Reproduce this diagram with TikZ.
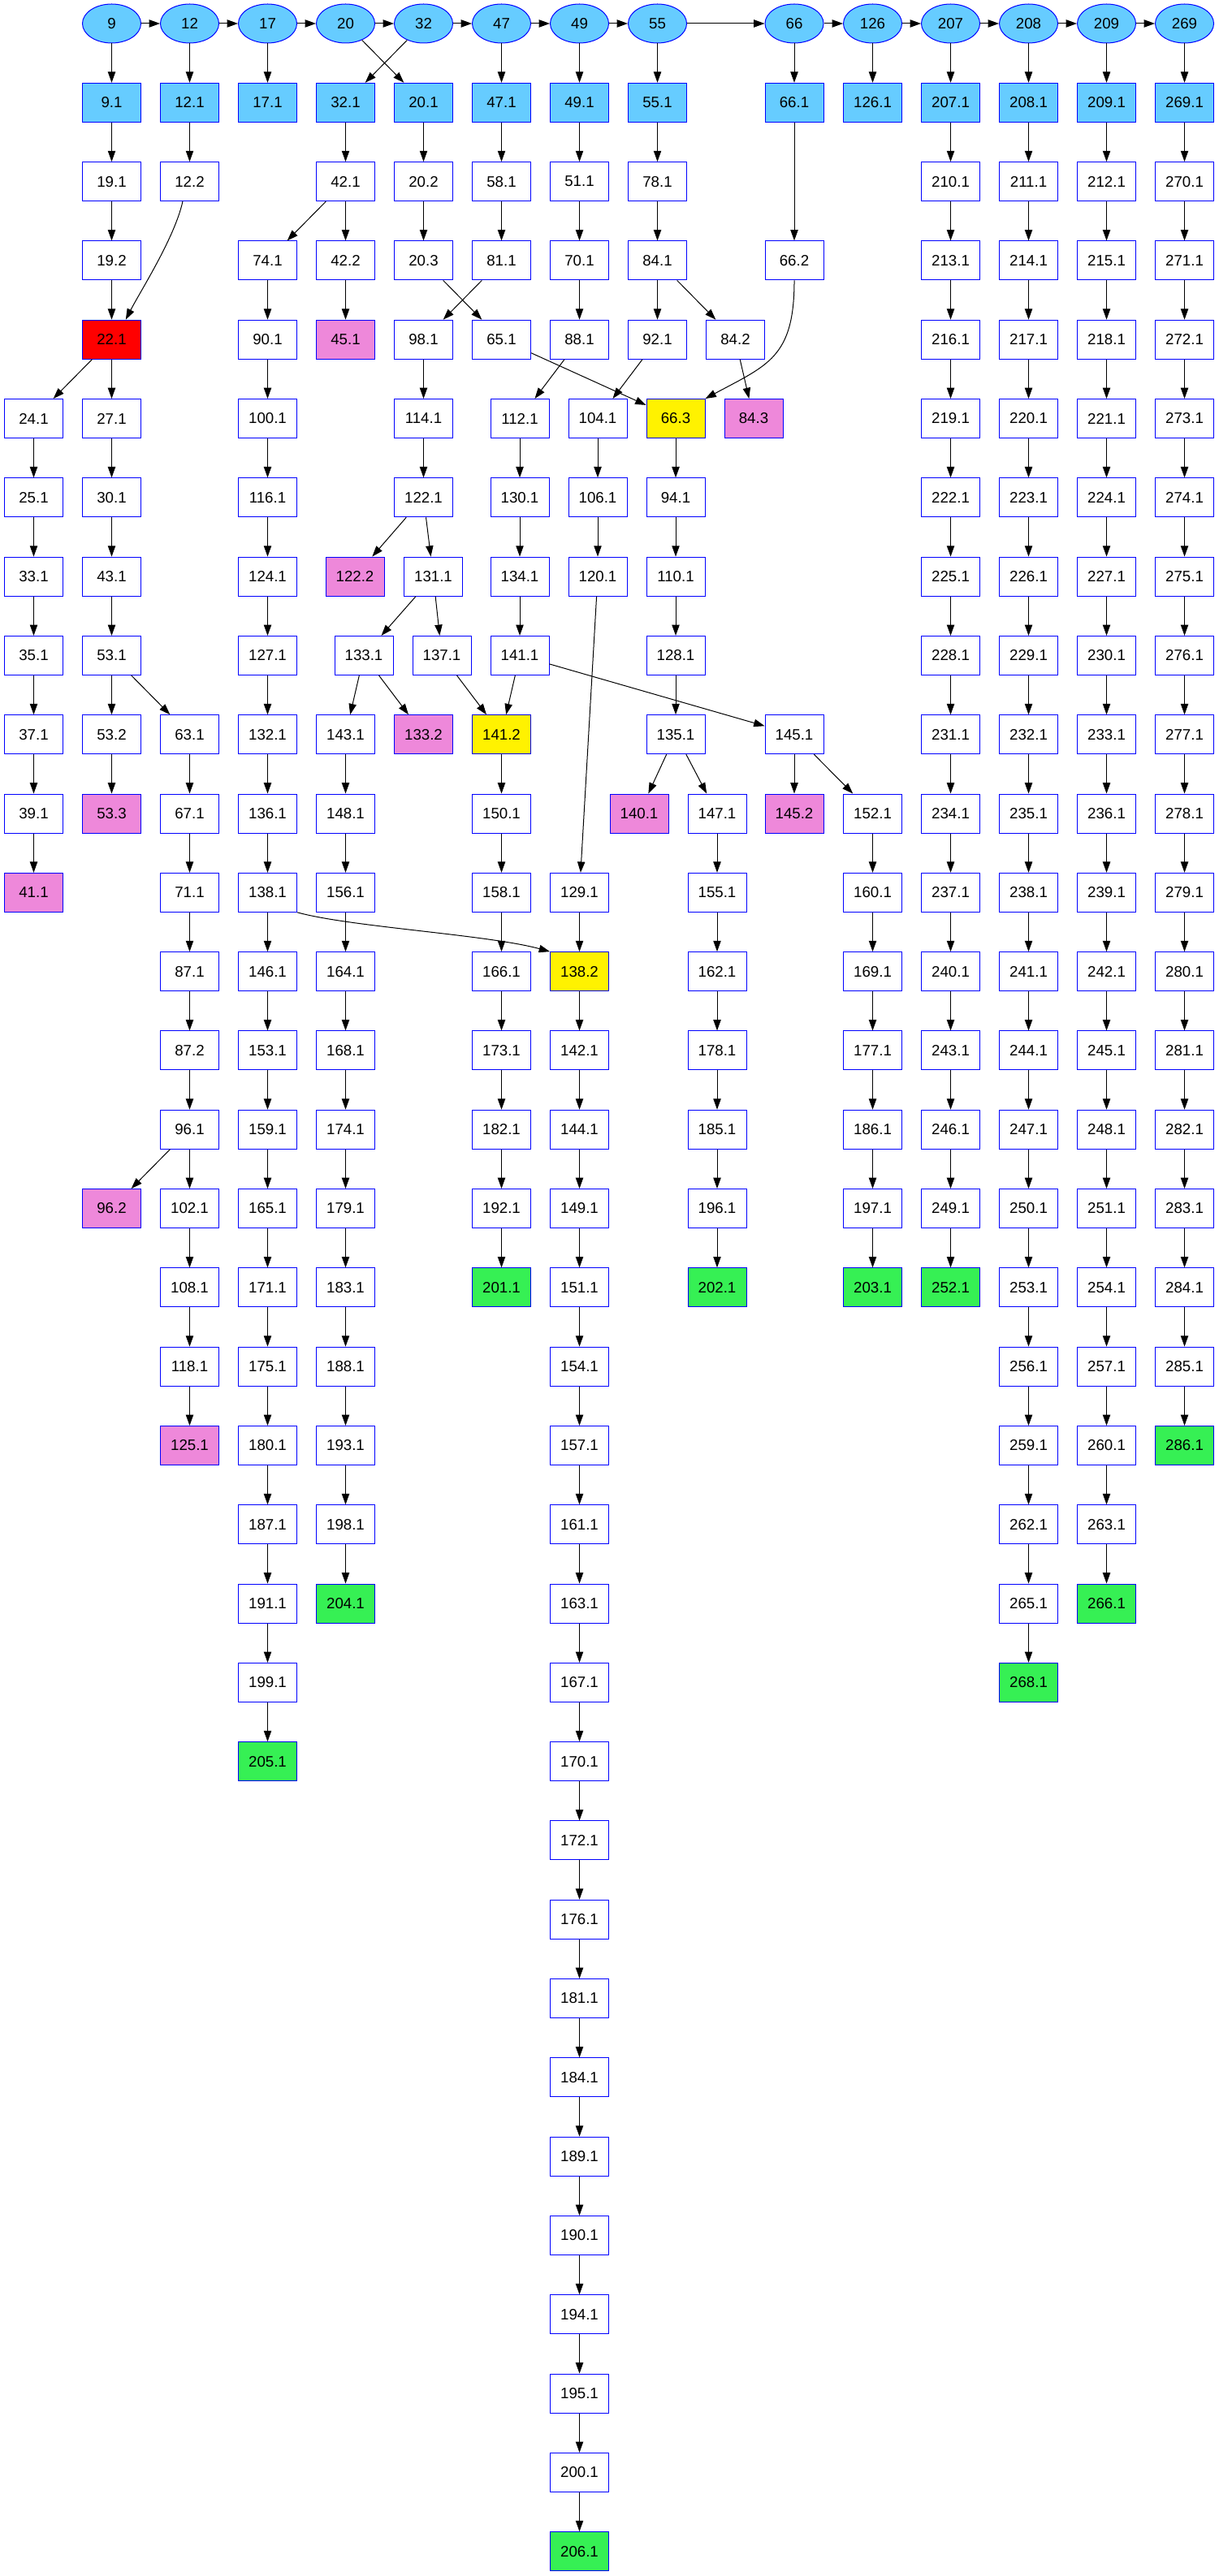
\documentclass[tikz,border=0pt]{standalone}
\usepackage{fontspec}
\setmainfont{Liberation Sans}
\usetikzlibrary{arrows.meta,shapes.geometric}

\definecolor{lightblue}{RGB}{102,204,255}
\definecolor{pinkish}{RGB}{238,136,218}
\definecolor{greenish}{RGB}{54,240,84}

\tikzset{
  cell/.style={draw=blue, line width=0.75pt, fill=white, minimum width=54pt,
    minimum height=36pt, inner sep=0pt, font=\fontsize{14}{16}\selectfont},
  head/.style={cell, ellipse, fill=lightblue},
  bluecell/.style={cell, fill=lightblue},
  redcell/.style={cell, fill=red},
  pinkcell/.style={cell, fill=pinkish},
  yellowcell/.style={cell, fill=yellow},
  greencell/.style={cell, fill=greenish},
  arr/.style={-{Triangle[length=10pt,width=7pt]}, line width=0.75pt},
}

\begin{document}
\begin{tikzpicture}[x=0.75pt, y=-72.975pt]
    \useasboundingbox (0,-0.298) rectangle (1500,32.312);
    % heads and their first boxes
    \foreach \n/\x in {9/137.5,12/233.5,17/329.5,20/425.5,32/521.5,47/617.5,49/713.5,55/809.5,66/978,126/1074.5,207/1170.5,208/1266.5,209/1362.5,269/1458.5}
        \node[head] (n\n) at (\x,0) {\n};
    \foreach \n/\x in {9/137.5,12/233.5,17/329.5,32/425.5,20/521.5,47/617.5,49/713.5,55/809.5,66/978,126/1074.5,207/1170.5,208/1266.5,209/1362.5,269/1458.5}
        \node[bluecell] (n\n_1) at (\x,1) {\n.1};
    % far left
    \foreach \n [count=\r from 5] in {24,25,33,35,37,39}
        \node[cell] (n\n_1) at (41.5,\r) {\n.1};
    \node[pinkcell] (n41_1) at (41.5,11) {41.1};
    % under 9
    \foreach \n/\s [count=\r from 2] in {19/1,19/2}
        \node[cell] (n\n_\s) at (137.5,\r) {\n.\s};
    \node[redcell] (n22_1) at (137.5,4) {22.1};
    \foreach \n/\s [count=\r from 5] in {27/1,30/1,43/1,53/1,53/2}
        \node[cell] (n\n_\s) at (137.5,\r) {\n.\s};
    \node[pinkcell] (n53_3) at (137.5,10) {53.3};
    \node[pinkcell] (n96_2) at (137.5,15) {96.2};
    % under 12
    \node[cell] (n12_2) at (233.5,2) {12.2};
    \foreach \n/\s [count=\r from 9] in {63/1,67/1,71/1,87/1,87/2,96/1,102/1,108/1,118/1}
        \node[cell] (n\n_\s) at (233.5,\r) {\n.\s};
    \node[pinkcell] (n125_1) at (233.5,18) {125.1};
    % under 17
    \foreach \n [count=\r from 3] in {74,90,100,116,124,127,132,136,138,146,153,159,165,171,175,180,187,191,199}
        \node[cell] (n\n_1) at (329.5,\r) {\n.1};
    \node[greencell] (n205_1) at (329.5,22) {205.1};
    % under 20 / 32
    \node[cell] (n42_1) at (425.5,2) {42.1};
    \node[cell] (n42_2) at (425.5,3) {42.2};
    \node[pinkcell] (n45_1) at (425.5,4) {45.1};
    \foreach \n [count=\r from 9] in {143,148,156,164,168,174,179,183,188,193,198}
        \node[cell] (n\n_1) at (425.5,\r) {\n.1};
    \node[greencell] (n204_1) at (425.5,20) {204.1};
    \foreach \n/\s [count=\r from 2] in {20/2,20/3,98/1,114/1,122/1}
        \node[cell] (n\n_\s) at (521.5,\r) {\n.\s};
    \node[pinkcell] (n122_2) at (437,7) {122.2};
    \node[cell] (n131_1) at (533.5,7) {131.1};
    \node[cell] (n133_1) at (448,8) {133.1};
    \node[cell] (n137_1) at (544,8) {137.1};
    \node[pinkcell] (n133_2) at (521.5,9) {133.2};
    % under 47
    \foreach \n [count=\r from 2] in {58,81,65}
        \node[cell] (n\n_1) at (617.5,\r) {\n.1};
    \node[yellowcell] (n141_2) at (617.5,9) {141.2};
    \foreach \n [count=\r from 10] in {150,158,166,173,182,192}
        \node[cell] (n\n_1) at (617.5,\r) {\n.1};
    \node[greencell] (n201_1) at (617.5,16) {201.1};
    \foreach \n [count=\r from 5] in {112,130,134,141}
        \node[cell] (n\n_1) at (640,\r) {\n.1};
    % under 49
    \foreach \n [count=\r from 2] in {51,70,88}
        \node[cell] (n\n_1) at (713.5,\r) {\n.1};
    \node[cell] (n129_1) at (713.5,11) {129.1};
    \node[yellowcell] (n138_2) at (713.5,12) {138.2};
    \foreach \n [count=\r from 13] in {142,144,149,151,154,157,161,163,167,170,172,176,181,184,189,190,194,195,200}
        \node[cell] (n\n_1) at (713.5,\r) {\n.1};
    \node[greencell] (n206_1) at (713.5,32) {206.1};
    \foreach \n [count=\r from 5] in {104,106,120}
        \node[cell] (n\n_1) at (736,\r) {\n.1};
    % under 55 / 66
    \foreach \n [count=\r from 2] in {78,84,92}
        \node[cell] (n\n_1) at (809.5,\r) {\n.1};
    \node[cell] (n84_2) at (905.5,4) {84.2};
    \node[pinkcell] (n84_3) at (928,5) {84.3};
    \node[yellowcell] (n66_3) at (832,5) {66.3};
    \foreach \n [count=\r from 6] in {94,110,128,135}
        \node[cell] (n\n_1) at (832,\r) {\n.1};
    \node[pinkcell] (n140_1) at (787,10) {140.1};
    \foreach \n [count=\r from 10] in {147,155,162,178,185,196}
        \node[cell] (n\n_1) at (883,\r) {\n.1};
    \node[greencell] (n202_1) at (883,16) {202.1};
    \node[cell] (n66_2) at (978,3) {66.2};
    \node[cell] (n145_1) at (978,9) {145.1};
    \node[pinkcell] (n145_2) at (978,10) {145.2};
    \foreach \n [count=\r from 10] in {152,160,169,177,186,197}
        \node[cell] (n\n_1) at (1074.5,\r) {\n.1};
    \node[greencell] (n203_1) at (1074.5,16) {203.1};
    % right columns
    \foreach \n [count=\r from 2] in {210,213,...,249}
        \node[cell] (n\n_1) at (1170.5,\r) {\n.1};
    \node[greencell] (n252_1) at (1170.5,16) {252.1};
    \foreach \n [count=\r from 2] in {211,214,...,265}
        \node[cell] (n\n_1) at (1266.5,\r) {\n.1};
    \node[greencell] (n268_1) at (1266.5,21) {268.1};
    \foreach \n [count=\r from 2] in {212,215,...,263}
        \node[cell] (n\n_1) at (1362.5,\r) {\n.1};
    \node[greencell] (n266_1) at (1362.5,20) {266.1};
    \foreach \n [count=\r from 2] in {270,...,285}
        \node[cell] (n\n_1) at (1458.5,\r) {\n.1};
    \node[greencell] (n286_1) at (1458.5,18) {286.1};

    % connectors
    \foreach \n [remember=\n as \p (initially 9)] in {12,17,20,32,47,49,55,66,126,207,208,209,269}
        \draw[arr] (n\p) -- (n\n);
    \foreach \n in {9,12,17,20,32,47,49,55,66,126,207,208,209,269}
        \draw[arr] (n\n) -- (n\n_1);
    \foreach \a/\b in {9_1/19_1,19_1/19_2,19_2/22_1,22_1/24_1,22_1/27_1,27_1/30_1,30_1/43_1,43_1/53_1,
        53_1/53_2,53_2/53_3,53_1/63_1,12_1/12_2,87_1/87_2,87_2/96_1,96_1/96_2,96_1/102_1,118_1/125_1,
        32_1/42_1,42_1/42_2,42_2/45_1,20_1/20_2,20_2/20_3,20_3/65_1,47_1/58_1,58_1/81_1,
        81_1/98_1,98_1/114_1,114_1/122_1,122_1/122_2,122_1/131_1,131_1/133_1,131_1/137_1,
        133_1/143_1,133_1/133_2,137_1/141_2,141_1/141_2,141_1/145_1,141_2/150_1,49_1/51_1,51_1/70_1,
        70_1/88_1,88_1/112_1,120_1/129_1,129_1/138_2,138_2/142_1,55_1/78_1,78_1/84_1,84_1/92_1,
        84_1/84_2,84_2/84_3,92_1/104_1,65_1/66_3,66_1/66_2,66_3/94_1,135_1/140_1,135_1/147_1,
        145_1/145_2,145_1/152_1}
        \draw[arr] (n\a) -- (n\b);
    \foreach \n [remember=\n as \p (initially 24)] in {25,33,35,37,39,41}
        \draw[arr] (n\p_1) -- (n\n_1);
    \foreach \a/\b in {63/67,67/71,71/87,102/108,108/118}
        \draw[arr] (n\a_1) -- (n\b_1);
    \foreach \n [remember=\n as \p (initially 42)] in {74,90,100,116,124,127,132,136,138,146,153,159,165,171,175,180,187,191,199,205}
        \draw[arr] (n\p_1) -- (n\n_1);
    \foreach \n [remember=\n as \p (initially 143)] in {148,156,164,168,174,179,183,188,193,198,204}
        \draw[arr] (n\p_1) -- (n\n_1);
    \foreach \n [remember=\n as \p (initially 150)] in {158,166,173,182,192,201}
        \draw[arr] (n\p_1) -- (n\n_1);
    \foreach \n [remember=\n as \p (initially 112)] in {130,134,141}
        \draw[arr] (n\p_1) -- (n\n_1);
    \foreach \n [remember=\n as \p (initially 104)] in {106,120}
        \draw[arr] (n\p_1) -- (n\n_1);
    \foreach \n [remember=\n as \p (initially 142)] in {144,149,151,154,157,161,163,167,170,172,176,181,184,189,190,194,195,200,206}
        \draw[arr] (n\p_1) -- (n\n_1);
    \foreach \n [remember=\n as \p (initially 94)] in {110,128,135}
        \draw[arr] (n\p_1) -- (n\n_1);
    \foreach \n [remember=\n as \p (initially 147)] in {155,162,178,185,196,202}
        \draw[arr] (n\p_1) -- (n\n_1);
    \foreach \n [remember=\n as \p (initially 152)] in {160,169,177,186,197,203}
        \draw[arr] (n\p_1) -- (n\n_1);
    \foreach \n [evaluate=\n as \p using int(\n-3)] in {210,213,...,252}
        \draw[arr] (n\p_1) -- (n\n_1);
    \foreach \n [evaluate=\n as \p using int(\n-3)] in {211,214,...,268}
        \draw[arr] (n\p_1) -- (n\n_1);
    \foreach \n [evaluate=\n as \p using int(\n-3)] in {212,215,...,266}
        \draw[arr] (n\p_1) -- (n\n_1);
    \foreach \n [evaluate=\n as \p using int(\n-1)] in {270,...,286}
        \draw[arr] (n\p_1) -- (n\n_1);
    % bent ones
    \draw[arr] ([xshift=-6.4pt]n12_2.south) .. controls +(-10,0.4625) and +(18,-0.36) .. ([xshift=13pt]n22_1.north);
    \draw[arr] (n66_2.south) .. controls +(0,0.976) and +(77,-0.4265) .. (n66_3.north east);
    \draw[arr] (n138_1.south east) .. controls +(65,0.185) and +(-77,-0.216) .. (n138_2.north west);
\end{tikzpicture}
\end{document}
